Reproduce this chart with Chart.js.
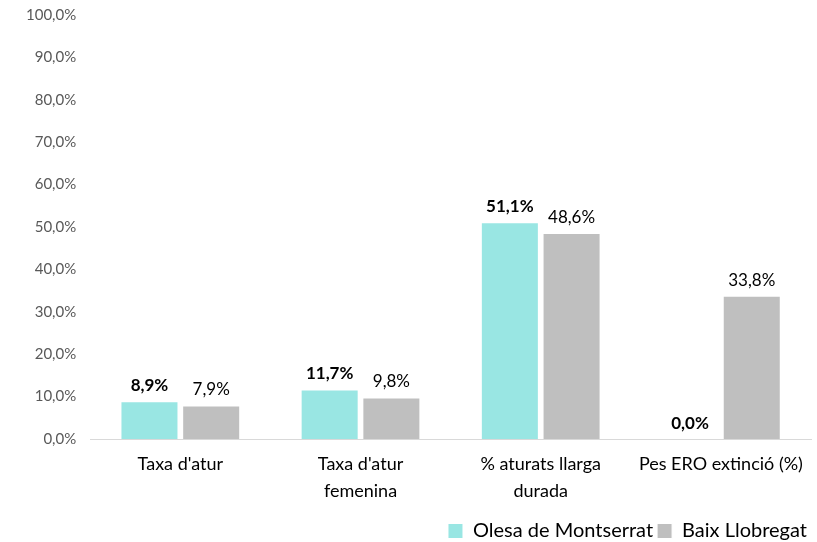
<!DOCTYPE html>
<html>
<head>
<meta charset="utf-8">
<script src="https://cdn.jsdelivr.net/npm/chart.js@4.4.0/dist/chart.umd.min.js"></script>
<style>
  html, body { margin: 0; padding: 0; background: #fff; overflow: hidden; }
  #wrap { position: absolute; left: 0; top: -8px; width: 817px; height: 559px; }
</style>
</head>
<body>
<div id="wrap"><canvas id="chart"></canvas></div>
<script>
const categories = [["Taxa d'atur"], ["Taxa d'atur", "femenina"], ["% aturats llarga", "durada"], ["Pes ERO extinció (%)"]];
const olesa = [8.9, 11.7, 51.1, 0.0];
const baix = [7.9, 9.8, 48.6, 33.8];
const seriesNames = ['Olesa de Montserrat', 'Baix Llobregat'];

const fmt = v => v.toFixed(1).replace('.', ',') + '%';
const FONT = 'Lato, "Open Sans", sans-serif';

// etiquetes de valor sobre les barres
const valueLabels = {
  id: 'valueLabels',
  afterDatasetsDraw(chart) {
    const ctx = chart.ctx;
    ctx.save();
    ctx.textAlign = 'center';
    ctx.textBaseline = 'bottom';
    ctx.fillStyle = '#000';
    chart.data.datasets.forEach((ds, i) => {
      ctx.font = (i === 0 ? 'bold ' : '') + '17px ' + FONT;
      chart.getDatasetMeta(i).data.forEach((bar, j) => {
        ctx.fillText(fmt(ds.data[j]), bar.x, bar.y - 7);
      });
    });
    ctx.restore();
  }
};

new Chart(document.getElementById('chart'), {
  type: 'bar',
  data: {
    labels: categories,
    datasets: [
      { label: seriesNames[0], data: olesa, backgroundColor: '#99e6e3', borderColor: '#ffffff', borderWidth: 1 },
      { label: seriesNames[1], data: baix, backgroundColor: '#bfbfbf', borderColor: '#ffffff', borderWidth: 1 }
    ]
  },
  options: {
    responsive: true,
    maintainAspectRatio: false,
    animation: false,
    layout: { padding: { top: 0, right: 6, left: 12, bottom: 0 } },
    datasets: { bar: { categoryPercentage: 0.685, barPercentage: 0.94 } },
    plugins: {
      legend: {
        position: 'bottom',
        align: 'end',
        labels: {
          boxWidth: 15, boxHeight: 15, padding: 4, color: '#000',
          font: { size: 20, family: FONT }
        }
      },
      tooltip: { enabled: false }
    },
    scales: {
      x: {
        grid: { display: false, drawTicks: false },
        border: { color: '#d9d9d9' },
        ticks: { color: '#000', padding: 12, maxRotation: 0, font: { size: 18, family: FONT, lineHeight: 1.5 } }
      },
      y: {
        min: 0, max: 100,
        grid: { display: false, drawTicks: false },
        border: { display: false },
        ticks: {
          stepSize: 10, color: '#595959', padding: 14,
          font: { size: 15, family: FONT },
          callback: v => fmt(v)
        }
      }
    }
  },
  plugins: [valueLabels]
});
</script>
</body>
</html>
